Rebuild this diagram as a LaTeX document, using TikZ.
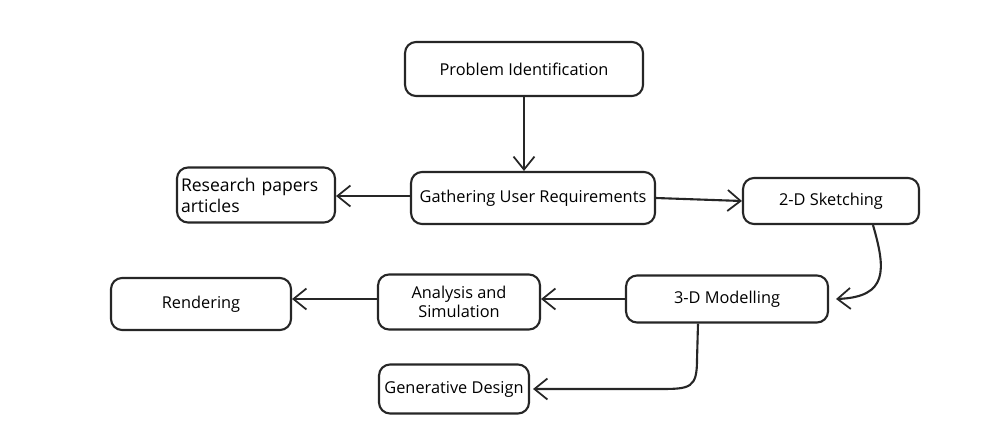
\documentclass[tikz,border=0pt]{standalone}
\usepackage{fontspec}
\setmainfont{Open Sans}
\usetikzlibrary{arrows.meta}
\begin{document}
\begin{tikzpicture}[x=0.02cm,y=-0.02cm,
  box/.style={draw=black!85, line width=1.2pt, rounded corners=0.22cm, align=center, font=\fontsize{9.3}{11}\selectfont, inner sep=2pt},
  arr/.style={draw=black!85, line width=1.2pt, -{Straight Barb[length=2.6mm,width=4.2mm,line width=1pt]}}]
\useasboundingbox (0,0) rectangle (1000,440);
\node[box, minimum width=4.76cm, minimum height=1.08cm] (pi) at (524,69) {Problem Identification};
\node[box, minimum width=4.88cm, minimum height=1.04cm] (gur) at (533,198) {Gathering User Requirements};
\node[box, minimum width=3.16cm, minimum height=1.1cm, text width=3.0cm, align=left, font=\fontsize{10}{12}\selectfont] (rp) at (256,195) {Research papers\\articles};
\node[box, minimum width=3.52cm, minimum height=0.92cm] (s2) at (831,201) {2-D Sketching};
\node[box, minimum width=4.04cm, minimum height=0.94cm] (m3) at (727,299) {3-D Modelling};
\node[box, minimum width=3.24cm, minimum height=1.1cm] (as) at (459,302) {Analysis and\\Simulation};
\node[box, minimum width=3.6cm, minimum height=1.04cm] (re) at (201,304) {Rendering};
\node[box, minimum width=3.0cm, minimum height=0.98cm] (gd) at (454,389) {Generative Design};
\draw[arr] (pi.south) -- (pi.south |- gur.north);
\draw[arr] ([yshift=0.04cm]gur.west) -- ([yshift=0.04cm]gur.west -| rp.east);
\draw[arr] (gur.east) -- (s2.west);
\draw[arr] ([xshift=0.84cm]s2.south) .. controls (886,270) and (888,297) .. ([xshift=0.14cm]m3.east);
\draw[arr] (m3.west) -- (m3.west -| as.east);
\draw[arr] (as.west |- m3.west) -- (m3.west -| re.east);
\coordinate (k) at (697,360);
\draw[arr] ([xshift=-0.58cm]m3.south) -- (k) .. controls (697,388) and (690,389) .. (660,389) -- ([xshift=0.06cm]gd.east);
\end{tikzpicture}
\end{document}
